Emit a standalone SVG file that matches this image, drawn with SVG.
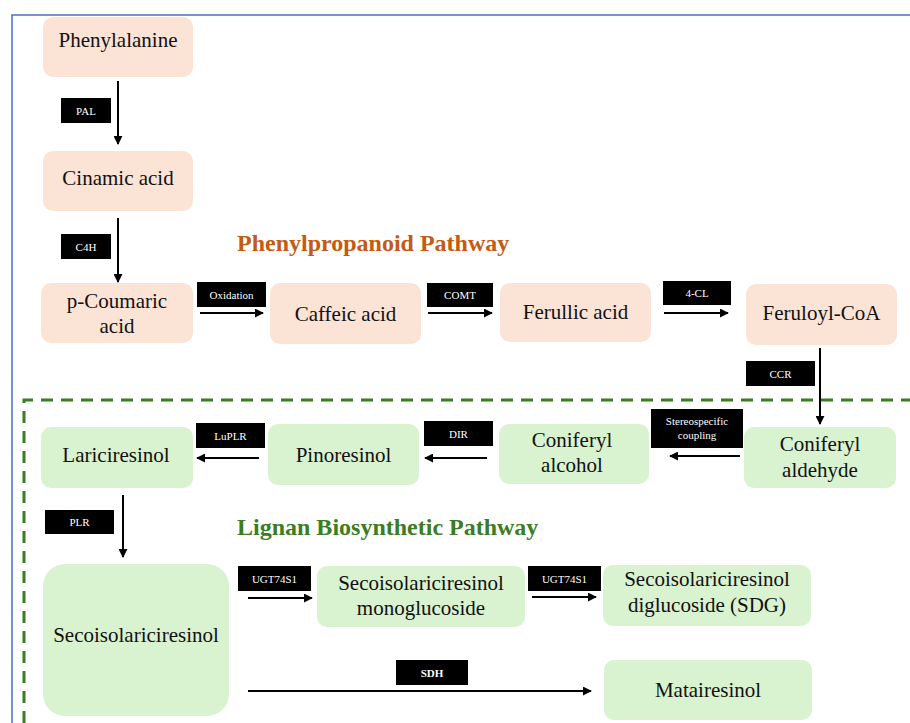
<svg xmlns="http://www.w3.org/2000/svg" width="910" height="723" viewBox="0 0 910 723">
<defs>
<marker id="ah" viewBox="0 0 10 10" refX="9" refY="5" markerWidth="4.5" markerHeight="4.5" orient="auto" markerUnits="strokeWidth">
<path d="M0,0 L10,5 L0,10 z" fill="#000"/>
</marker>
</defs>
<style>
text{font-family:'Liberation Serif','Times New Roman',serif;}
.pk{fill:#FBE3D6;}
.gr{fill:#D9F2D0;}
.nt{font-size:21px;fill:#111;text-anchor:middle;}
.lb{fill:#000;}
.lt{font-size:11px;fill:#fff;text-anchor:middle;}
.ar{stroke:#000;stroke-width:2;fill:none;marker-end:url(#ah);}
.t1{font-size:24px;font-weight:bold;fill:#C55A11;}
.t2{font-size:24px;font-weight:bold;fill:#3A7D22;}
</style>
<rect x="0" y="0" width="910" height="723" fill="#fff"/>
<rect x="12" y="15" width="1000" height="800" fill="none" stroke="#4472C4" stroke-width="1.5"/>
<path d="M24,723 L24,400 L910,400" fill="none" stroke="#3A7D22" stroke-width="3" stroke-dasharray="12,8"/>

<text class="t1" x="237" y="251">Phenylpropanoid Pathway</text>
<text class="t2" x="237" y="535">Lignan Biosynthetic Pathway</text>

<g id="connectors">
<line class="ar" x1="118" y1="81" x2="118" y2="144"/>
<line class="ar" x1="118" y1="218" x2="118" y2="282"/>
<line class="ar" x1="200" y1="313" x2="263" y2="313"/>
<line class="ar" x1="428" y1="313" x2="492" y2="313"/>
<line class="ar" x1="664" y1="313" x2="728" y2="313"/>
<line class="ar" x1="820" y1="348" x2="820" y2="424"/>
<line class="ar" x1="740" y1="456" x2="670" y2="456"/>
<line class="ar" x1="487" y1="458" x2="425" y2="458"/>
<line class="ar" x1="259" y1="458" x2="197" y2="458"/>
<line class="ar" x1="123" y1="495" x2="123" y2="557"/>
<line class="ar" x1="248" y1="598" x2="312" y2="598"/>
<line class="ar" x1="532" y1="597" x2="596" y2="597"/>
<line class="ar" x1="248" y1="691" x2="591" y2="691"/>
<g id="labels">
<rect class="lb" x="61" y="98" width="50" height="25"/><text class="lt" x="86" y="114.5">PAL</text>
<rect class="lb" x="61" y="234" width="50" height="25"/><text class="lt" x="86" y="250.5">C4H</text>
<rect class="lb" x="197" y="282" width="69" height="25"/><text class="lt" x="231.5" y="298.5">Oxidation</text>
<rect class="lb" x="427" y="283" width="66" height="24"/><text class="lt" x="460" y="299">COMT</text>
<rect class="lb" x="663" y="281" width="68" height="24"/><text class="lt" x="697" y="297">4-CL</text>
<rect class="lb" x="746" y="361" width="69" height="25"/><text class="lt" x="780.5" y="377.5">CCR</text>
<rect class="lb" x="651" y="409" width="92" height="39"/><text class="lt" x="697" y="425">Stereospecific</text><text class="lt" x="697" y="439">coupling</text>
<rect class="lb" x="424" y="421" width="69" height="25"/><text class="lt" x="458.5" y="437.5">DIR</text>
<rect class="lb" x="196" y="423" width="69" height="25"/><text class="lt" x="230.5" y="439.5">LuPLR</text>
<rect class="lb" x="45" y="510" width="69" height="24"/><text class="lt" x="79.5" y="526">PLR</text>
<rect class="lb" x="238" y="566" width="73" height="25"/><text class="lt" x="274.5" y="582.5">UGT74S1</text>
<rect class="lb" x="528" y="566" width="73" height="25"/><text class="lt" x="564.5" y="582.5">UGT74S1</text>
<rect class="lb" x="396" y="660" width="72" height="25"/><text class="lt" x="432" y="676.5" font-weight="bold">SDH</text>
</g>
</g>

<g id="phenylalanine"><rect class="pk" x="43" y="17" width="150" height="60" rx="10"/><text class="nt" x="118" y="47">Phenylalanine</text></g>
<g id="cinamic-acid"><rect class="pk" x="43" y="151" width="150" height="60" rx="10"/><text class="nt" x="118" y="185">Cinamic acid</text></g>
<g id="p-coumaric-acid"><rect class="pk" x="41" y="283" width="152" height="60" rx="10"/><text class="nt" x="117" y="308">p-Coumaric</text><text class="nt" x="117" y="333">acid</text></g>
<g id="caffeic-acid"><rect class="pk" x="270" y="283" width="151" height="61" rx="10"/><text class="nt" x="345.5" y="321">Caffeic acid</text></g>
<g id="ferullic-acid"><rect class="pk" x="500" y="283" width="151" height="59" rx="10"/><text class="nt" x="575.5" y="319">Ferullic acid</text></g>
<g id="feruloyl-coa"><rect class="pk" x="746" y="284" width="151" height="61" rx="10"/><text class="nt" x="821.5" y="320">Feruloyl-CoA</text></g>
<g id="coniferyl-aldehyde"><rect class="gr" x="744" y="427" width="152" height="61" rx="10"/><text class="nt" x="820" y="451">Coniferyl</text><text class="nt" x="820" y="477">aldehyde</text></g>
<g id="coniferyl-alcohol"><rect class="gr" x="499" y="424" width="150" height="60" rx="10"/><text class="nt" x="572" y="447">Coniferyl</text><text class="nt" x="572" y="472">alcohol</text></g>
<g id="pinoresinol"><rect class="gr" x="268" y="424" width="151" height="61" rx="10"/><text class="nt" x="343.5" y="462">Pinoresinol</text></g>
<g id="lariciresinol"><rect class="gr" x="41" y="427" width="152" height="61" rx="10"/><text class="nt" x="116" y="462">Lariciresinol</text></g>
<g id="secoisolariciresinol"><rect class="gr" x="43" y="564" width="186" height="152" rx="22"/><text class="nt" x="136" y="642">Secoisolariciresinol</text></g>
<g id="monoglucoside"><rect class="gr" x="317" y="566" width="208" height="61" rx="10"/><text class="nt" x="421" y="590">Secoisolariciresinol</text><text class="nt" x="421" y="615">monoglucoside</text></g>
<g id="sdg"><rect class="gr" x="603" y="565" width="208" height="61" rx="10"/><text class="nt" x="707" y="586">Secoisolariciresinol</text><text class="nt" x="707" y="612">diglucoside (SDG)</text></g>
<g id="matairesinol"><rect class="gr" x="604" y="660" width="208" height="60" rx="10"/><text class="nt" x="708" y="697">Matairesinol</text></g>
</svg>
